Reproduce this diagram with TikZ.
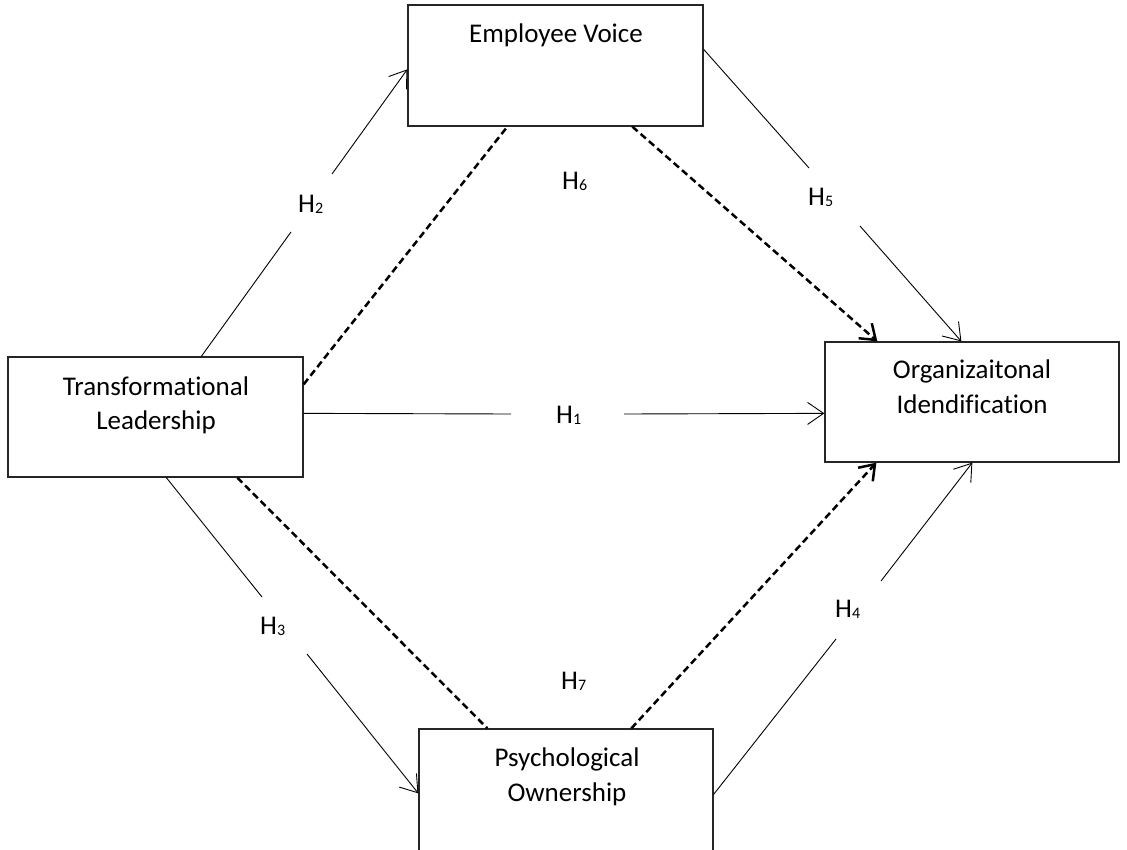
\documentclass[tikz,border=0pt]{standalone}
\usepackage{fontspec}
\setmainfont{Carlito}[Ligatures={NoCommon}]
\usetikzlibrary{arrows.meta,calc}
\newcommand{\hyp}[1]{H\raisebox{-1pt}{\fontsize{16}{16}\selectfont #1}}
\begin{document}
\begin{tikzpicture}[x=1pt,y=-1pt,
  box/.style={draw=black!85, line width=1.3pt, rectangle, inner sep=0pt, minimum width=295pt, minimum height=121pt},
  txt/.style={anchor=base, inner sep=0pt, font=\fontsize{27}{35}\selectfont},
  lbl/.style={anchor=base west, inner sep=0pt, font=\fontsize{27}{30}\selectfont},
  link/.style={line width=0.9pt},
  arr/.style={link, -{Straight Barb[length=16pt,width=22pt]}},
  dashlink/.style={line width=2.5pt, dash pattern=on 7pt off 4pt},
  dasharr/.style={dashlink, -{Straight Barb[length=14pt,width=20pt]}}]
\useasboundingbox (0,0) rectangle (1127,849);
\clip (0,0) rectangle (1127,849);

% boxes
\node[box] (EV) at (555.5,65.5) {};
\node[box, minimum height=120pt] (TL) at (155.5,417) {};
\node[box, minimum width=294pt, minimum height=120pt] (OI) at (972,402) {};
\node[box, minimum width=294pt, minimum height=160pt] (PO) at (566,809) {};

% box texts
\node[txt] (EVt) at (556,42) {Employee Voice};
\node[txt] (TLt1) at (156,395) {Transformational};
\node[txt] (TLt2) at (156,429) {Leadership};
\node[txt] (OIt1) at (972,378) {Organizaitonal};
\node[txt] (OIt2) at (972,413) {Idendification};
\node[txt] (POt1) at (567,766) {Psychological};
\node[txt] (POt2) at (567,801) {Ownership};

% hypothesis labels
\node[lbl] (H1) at (556,423) {\hyp{1}};
\node[lbl] (H2) at (298,212) {\hyp{2}};
\node[lbl] (H3) at (260,634) {\hyp{3}};
\node[lbl] (H4) at (835,617) {\hyp{4}};
\node[lbl] (H5) at (808,205) {\hyp{5}};
\node[lbl] (H6) at (562,189) {\hyp{6}};
\node[lbl] (H7) at (561,689) {\hyp{7}};

% gap ends of the labelled connectors
\coordinate (h1a) at (511,414);
\coordinate (h1b) at (624,414);
\coordinate (h2a) at (291,232);
\coordinate (h2b) at (332,174);
\coordinate (h3a) at (262,597);
\coordinate (h3b) at (307,654);
\coordinate (h4a) at (836,639);
\coordinate (h4b) at (881,581);
\coordinate (h5a) at (809,168);
\coordinate (h5b) at (860,226);

% H1
\draw[link] ($(TL.north east)+(0,57)$) -- (h1a);
\draw[arr] (h1b) -- ($(OI.north west)+(0,72)$);
% H2
\draw[link] ($(TL.north west)+(194,0)$) -- (h2a);
\draw[arr] (h2b) -- ($(EV.north west)+(0,65)$);
% H3
\draw[link] ($(TL.south west)+(159,0)$) -- (h3a);
\draw[arr] (h3b) -- ($(PO.north west)+(0,65)$);
% H4
\draw[link] ($(PO.north east)+(0,66)$) -- (h4a);
\draw[arr] (h4b) -- ($(OI.south west)+(148,0)$);
% H5
\draw[link] ($(EV.north east)+(0,45)$) -- (h5a);
\draw[arr] (h5b) -- ($(OI.north west)+(137,0)$);

% dashed mediation paths
\draw[dashlink] ($(TL.north east)+(0,28)$) -- ($(EV.south west)+(100,0)$);
\draw[dasharr] ($(EV.south west)+(225,0)$) -- ($(OI.north west)+(53,0)$);
\draw[dashlink] ($(TL.south west)+(230,0)$) -- ($(PO.north west)+(69,0)$);
\draw[dasharr] ($(PO.north west)+(213,0)$) -- ($(OI.south west)+(52,0)$);
\end{tikzpicture}
\end{document}
